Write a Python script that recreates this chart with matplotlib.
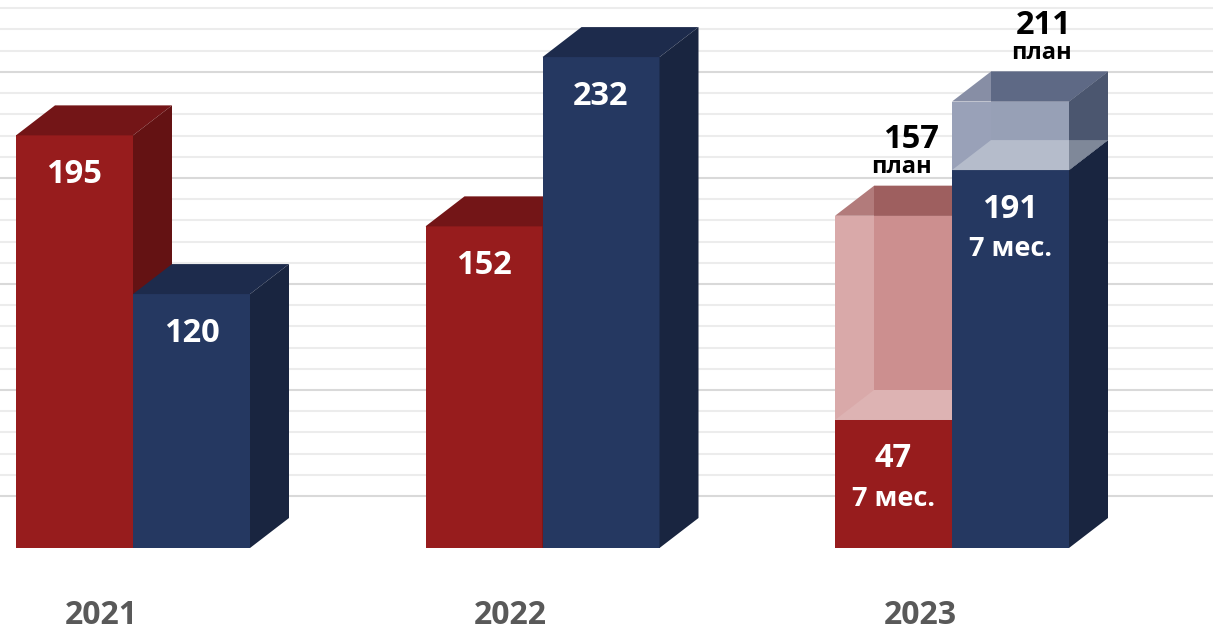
import numpy as np
import matplotlib.pyplot as plt
from matplotlib.patches import Polygon

# data
years = ['2021', '2022', '2023']
red_vals = [195, 152, 60.5]      # 2023 red bar is drawn higher than its label (47)
blue_vals = [120, 232, 178.6]    # 2023 blue bar is drawn lower than its label (191)
red_labels = ['195', '152', '47']
blue_labels = ['120', '232', '191']
plan_vals = [157, 211]           # 2023 plan, red / blue
plan_labels = ['157', '211']
note_7m = '7 мес.'
plan_word = 'план'

W, H = 1213, 636
PX = 2.116          # pixels per unit
BASE = 548          # baseline, pixels from top
BAR_W = 117
DX = 39
DY = 30 / PX
X0 = 16
STEP = 409.5

RED = dict(front='#971c1d', top='#731517', side='#641213')
BLUE = dict(front='#253861', top='#1d2b4c', side='#192540')
RED_PLAN = dict(front='#d9a9a9', front_back='#cc8f8f', top='#b27b7b', top_back='#9e5f5f',
                bottom='#ddb3b3', side='#a56a6a', side_bottom='#c79595')
BLUE_PLAN = dict(front='#99a1b8', front_back='#97a0b6', top='#878ea5', top_back='#5e6985',
                 bottom='#b5bccb', side='#4b566f', side_bottom='#7f8899')

plt.rcParams['font.family'] = ['Open Sans', 'DejaVu Sans']

fig = plt.figure(figsize=(W / 100, H / 100), dpi=100)
ax = fig.add_axes([0, 0, 1, 1])
ax.set_xlim(0, W)
ax.set_ylim(-(H - BASE) / PX, BASE / PX)
ax.axis('off')

# horizontal grid behind the bars
grid_y = 24.6 + 10.02 * np.arange(24)
for k, gy in enumerate(grid_y):
    col = '#d9d9d9' if k % 5 == 0 else '#ececec'
    ax.hlines(gy, 0, W, colors=col, lw=1.5, zorder=0)


def poly(pts, color, z=2):
    ax.add_patch(Polygon(pts, closed=True, fc=color, ec='none', zorder=z))


def solid_bar(x, y0, y1, c):
    poly([(x, y0), (x + BAR_W, y0), (x + BAR_W, y1), (x, y1)], c['front'])
    poly([(x, y1), (x + BAR_W, y1), (x + BAR_W + DX, y1 + DY), (x + DX, y1 + DY)], c['top'])
    poly([(x + BAR_W, y0), (x + BAR_W + DX, y0 + DY), (x + BAR_W + DX, y1 + DY), (x + BAR_W, y1)], c['side'])


def plan_box(x, y0, y1, c):
    # see-through box: overlapping faces get their own shade
    poly([(x, y1), (x + BAR_W, y1), (x + BAR_W + DX, y1 + DY), (x + DX, y1 + DY)], c['top'])
    poly([(x + DX, y1), (x + BAR_W, y1), (x + BAR_W + DX, y1 + DY), (x + DX, y1 + DY)], c['top_back'])
    poly([(x, y0), (x + BAR_W, y0), (x + BAR_W, y1), (x, y1)], c['front'])
    poly([(x + DX, y0 + DY), (x + BAR_W, y0 + DY), (x + BAR_W, y1), (x + DX, y1)], c['front_back'])
    poly([(x, y0), (x + BAR_W, y0), (x + BAR_W + DX, y0 + DY), (x + DX, y0 + DY)], c['bottom'])
    poly([(x + BAR_W, y0), (x + BAR_W + DX, y0 + DY), (x + BAR_W + DX, y1 + DY), (x + BAR_W, y1)], c['side'])
    poly([(x + BAR_W, y0 + DY), (x + BAR_W + DX, y0 + DY), (x + BAR_W, y0)], c['side_bottom'])


lab = dict(color='white', fontsize=23.5, fontweight='bold', ha='center', va='center', zorder=5)
note = dict(color='white', fontsize=19.5, fontweight='bold', ha='center', va='center', zorder=5)
off1 = 39 / PX
off2 = 79 / PX
num_shift = [0.45, 0.85]
word_shift = [0.2, 0.8]

for i, yr in enumerate(years):
    xr = X0 + STEP * i
    xb = xr + BAR_W
    solid_bar(xr, 0, red_vals[i], RED)
    if i == 2:
        plan_box(xr, red_vals[i], plan_vals[0], RED_PLAN)
    solid_bar(xb, 0, blue_vals[i], BLUE)
    if i == 2:
        plan_box(xb, blue_vals[i], plan_vals[1], BLUE_PLAN)

    ax.text(xr + BAR_W / 2, red_vals[i] - off1, red_labels[i], **lab)
    ax.text(xb + BAR_W / 2, blue_vals[i] - off1, blue_labels[i], **lab)
    if i == 2:
        ax.text(xr + BAR_W / 2, red_vals[i] - off2, note_7m, **note)
        ax.text(xb + BAR_W / 2, blue_vals[i] - off2, note_7m, **note)
        for j, xx in enumerate([xr, xb]):
            top_back = plan_vals[j] + DY
            ax.text(xx + BAR_W / 2 + DX * num_shift[j], top_back + 46 / PX, plan_labels[j],
                    color='black', fontsize=23.5, fontweight='bold', ha='center', va='center', zorder=5)
            ax.text(xx + BAR_W / 2 + DX * word_shift[j], top_back + 19 / PX, plan_word,
                    color='black', fontsize=17, fontweight='bold', ha='center', va='center', zorder=5)

    ax.text(xr + 85, -67 / PX, yr, color='#595959', fontsize=23, fontweight='bold',
            ha='center', va='center', zorder=5)

fig.savefig('out.png', dpi=100)
